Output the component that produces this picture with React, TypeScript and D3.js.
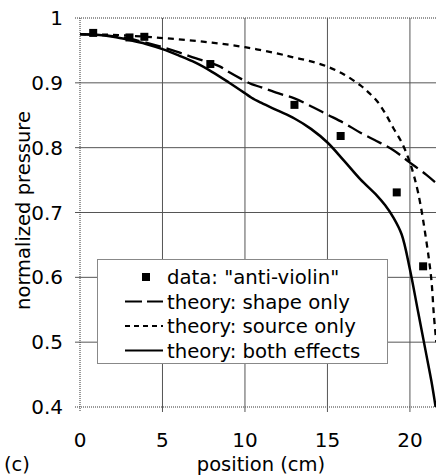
import React, { useEffect, useRef } from "react";
import * as d3 from "d3";

// measured points: "anti-violin"
const dataX = [0.8, 3.0, 3.9, 7.9, 13.0, 15.8, 19.2, 20.8];
const dataY = [0.977, 0.97, 0.971, 0.929, 0.866, 0.818, 0.731, 0.617];

// theory: shape only (long dash)
const shapeX = [0, 1, 2, 3, 4, 5, 6, 7, 8, 8.5, 9, 10, 10.4, 11, 12, 13, 14, 15, 16, 17, 18, 19, 20, 21, 21.6];
const shapeY = [0.975, 0.974, 0.972, 0.968, 0.962, 0.955, 0.947, 0.938, 0.93, 0.925, 0.917, 0.903, 0.898, 0.893, 0.884, 0.876, 0.864, 0.851, 0.838, 0.823, 0.81, 0.796, 0.777, 0.758, 0.745];

// theory: source only (short dash)
const sourceX = [0, 2, 4, 6, 8, 10, 12, 13, 14, 15, 16, 17, 17.5, 18, 18.5, 19, 19.5, 20, 20.5, 21, 21.3, 21.45, 21.6];
const sourceY = [0.975, 0.974, 0.971, 0.967, 0.962, 0.955, 0.945, 0.939, 0.933, 0.925, 0.913, 0.896, 0.885, 0.872, 0.853, 0.83, 0.808, 0.777, 0.73, 0.655, 0.596, 0.542, 0.5];

// theory: both effects (solid)
const bothX = [0, 1, 2, 3, 4, 5, 6, 7, 8, 9, 10, 10.4, 11, 12, 13, 14, 15, 16, 17, 18, 18.5, 19, 19.5, 20, 20.5, 21, 21.3, 21.6];
const bothY = [0.975, 0.974, 0.971, 0.966, 0.96, 0.952, 0.942, 0.931, 0.917, 0.901, 0.884, 0.877, 0.869, 0.857, 0.845, 0.829, 0.808, 0.78, 0.751, 0.726, 0.711, 0.692, 0.666, 0.612, 0.546, 0.48, 0.44, 0.393];

const xTicks = [0, 5, 10, 15, 20];
const yTicks = [0.4, 0.5, 0.6, 0.7, 0.8, 0.9, 1];
const yTickLabels = ["0.4", "0.5", "0.6", "0.7", "0.8", "0.9", "1"];

const legendLabels = [
  'data: "anti-violin"',
  "theory: shape only",
  "theory: source only",
  "theory: both effects",
];

const W = 436;
const H = 476;
const FONT = "DejaVu Sans, Verdana, sans-serif";

const App = () => {
  const svgRef = useRef<SVGSVGElement>(null);

  useEffect(() => {
    const svg = d3.select(svgRef.current);
    svg.selectAll("*").remove();

    const left = 80;
    const top = 18;
    const bottom = 407;
    const right = 436;

    const x = d3.scaleLinear().domain([0, 21.58]).range([left, right]);
    const y = d3.scaleLinear().domain([0.4, 1]).range([bottom, top]);

    svg.append("rect").attr("width", W).attr("height", H).attr("fill", "#fff");

    // grid lines (with ticks poking outside the frame)
    yTicks.forEach((t) => {
      const edge = t === 0.4 || t === 1;
      svg
        .append("line")
        .attr("x1", left - 5)
        .attr("x2", right)
        .attr("y1", y(t))
        .attr("y2", y(t))
        .attr("stroke", edge ? "#333" : "#555")
        .attr("stroke-width", 1)
        .attr("stroke-dasharray", edge ? "1,1" : null);
    });
    xTicks.forEach((t) => {
      const edge = t === 0;
      svg
        .append("line")
        .attr("x1", x(t))
        .attr("x2", x(t))
        .attr("y1", top)
        .attr("y2", bottom + 5)
        .attr("stroke", edge ? "#333" : "#555")
        .attr("stroke-width", 1)
        .attr("stroke-dasharray", edge ? "1,1" : null);
    });

    // tick labels
    svg
      .append("g")
      .selectAll("text")
      .data(yTicks)
      .join("text")
      .attr("x", 63)
      .attr("y", (d) => y(d) + 7)
      .attr("text-anchor", "end")
      .attr("font-family", FONT)
      .attr("font-size", 20)
      .text((d, i) => yTickLabels[i]);

    svg
      .append("g")
      .selectAll("text")
      .data(xTicks)
      .join("text")
      .attr("x", (d) => x(d))
      .attr("y", 447)
      .attr("text-anchor", "middle")
      .attr("font-family", FONT)
      .attr("font-size", 20)
      .text((d) => d);

    // axis titles
    svg
      .append("text")
      .attr("transform", `translate(30,${(top + bottom) / 2 - 2}) rotate(-90)`)
      .attr("text-anchor", "middle")
      .attr("font-family", FONT)
      .attr("font-size", 19.5)
      .text("normalized pressure");

    svg
      .append("text")
      .attr("x", 261)
      .attr("y", 471)
      .attr("text-anchor", "middle")
      .attr("font-family", FONT)
      .attr("font-size", 19.5)
      .text("position (cm)");

    svg
      .append("text")
      .attr("x", 4)
      .attr("y", 471)
      .attr("font-family", FONT)
      .attr("font-size", 19.5)
      .text("(c)");

    // curves
    svg
      .append("clipPath")
      .attr("id", "plot-clip")
      .append("rect")
      .attr("x", left)
      .attr("y", top - 2)
      .attr("width", right - left)
      .attr("height", bottom - top + 2);

    const line = d3
      .line<[number, number]>()
      .x((d) => x(d[0]))
      .y((d) => y(d[1]))
      .curve(d3.curveCatmullRom.alpha(0.5));

    const zip = (xs: number[], ys: number[]) =>
      xs.map((v, i) => [v, ys[i]] as [number, number]);

    const curves = svg.append("g").attr("clip-path", "url(#plot-clip)");

    curves
      .append("path")
      .datum(zip(sourceX, sourceY))
      .attr("fill", "none")
      .attr("stroke", "#000")
      .attr("stroke-width", 2.3)
      .attr("stroke-dasharray", "6,5")
      .attr("d", line);

    curves
      .append("path")
      .datum(zip(shapeX, shapeY))
      .attr("fill", "none")
      .attr("stroke", "#000")
      .attr("stroke-width", 2.3)
      .attr("stroke-dasharray", "16,6")
      .attr("d", line);

    curves
      .append("path")
      .datum(zip(bothX, bothY))
      .attr("fill", "none")
      .attr("stroke", "#000")
      .attr("stroke-width", 2.5)
      .attr("d", line);

    curves
      .selectAll("rect.pt")
      .data(zip(dataX, dataY))
      .join("rect")
      .attr("class", "pt")
      .attr("x", (d) => x(d[0]) - 4)
      .attr("y", (d) => y(d[1]) - 4)
      .attr("width", 8)
      .attr("height", 8)
      .attr("fill", "#000");

    // legend
    const legend = svg.append("g");
    legend
      .append("rect")
      .attr("x", 97.5)
      .attr("y", 259.5)
      .attr("width", 290)
      .attr("height", 104)
      .attr("fill", "#fff")
      .attr("stroke", "#888")
      .attr("stroke-width", 1);

    const rowY = (i: number) => 277 + i * 24.5;

    legend
      .append("rect")
      .attr("x", 142)
      .attr("y", rowY(0) - 4)
      .attr("width", 8)
      .attr("height", 8)
      .attr("fill", "#000");

    const samples = [
      { i: 1, dash: "17,5" },
      { i: 2, dash: "5,4" },
      { i: 3, dash: null },
    ];
    samples.forEach((s) => {
      legend
        .append("line")
        .attr("x1", 125)
        .attr("x2", 163)
        .attr("y1", rowY(s.i))
        .attr("y2", rowY(s.i))
        .attr("stroke", "#000")
        .attr("stroke-width", 2)
        .attr("stroke-dasharray", s.dash);
    });

    legend
      .selectAll("text")
      .data(legendLabels)
      .join("text")
      .attr("x", 167)
      .attr("y", (d, i) => rowY(i) + 7)
      .attr("font-family", FONT)
      .attr("font-size", 19.7)
      .text((d) => d);
  }, []);

  return (
    <div style={{ position: "absolute", left: 0, top: 0 }}>
      <svg ref={svgRef} width={W} height={H} style={{ display: "block" }}></svg>
    </div>
  );
};

export default App;
